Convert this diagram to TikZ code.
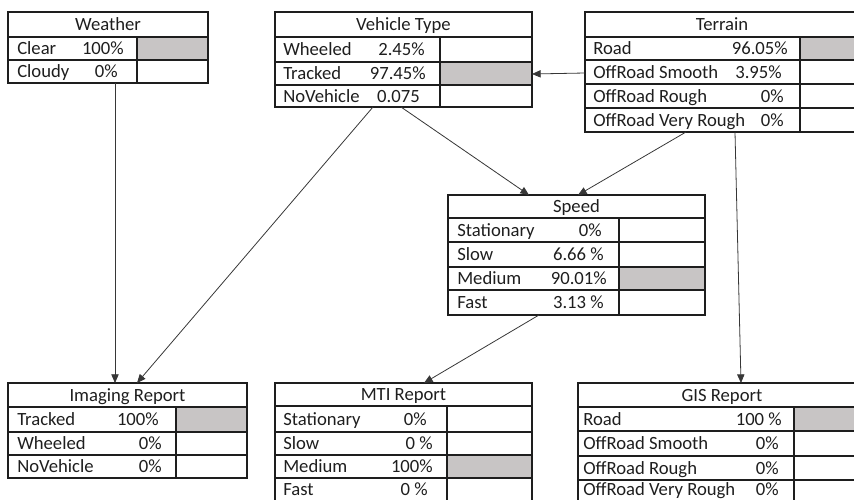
\documentclass[tikz,border=0pt]{standalone}
\usepackage{fontspec}
\setmainfont{Carlito}
\usetikzlibrary{arrows.meta,fit}
\definecolor{cellgray}{RGB}{200,197,197}
\definecolor{ink}{RGB}{30,30,30}
\definecolor{wire}{RGB}{55,55,55}
\begin{document}
\begin{tikzpicture}[x=0.75pt,y=-0.75pt,
  frame/.style={draw=ink, line width=0.8pt, inner sep=0pt, fit={#1}},
  grid/.style={draw=ink, line width=0.8pt},
  shade/.style={fill=cellgray},
  txt/.style={inner sep=0pt, text=ink, font=\fontsize{14}{16}\selectfont},
  title/.style={txt, anchor=base},
  lab/.style={txt, anchor=base west},
  val/.style={txt, anchor=base east},
  link/.style={draw=wire, line width=0.6pt, -{Triangle[length=6.5pt,width=5.5pt]}}]
\useasboundingbox (0,0) rectangle (854,500);
\clip (0,0) rectangle (854,500);

% ---------- Weather
\fill[shade] (137,37) rectangle (208,60);
\node[frame={(8,12)(208,83)}] (weather) {};
\draw[grid] (8,37) -- (208,37) (8,60) -- (208,60) (137,37) -- (137,83);
\node[title] (weatherT) at (108,30.5) {Weather};
\node[lab] (w1a) at (17,54.5) {Clear};
\node[val] (w1b) at (124,54.5) {100\%};
\node[lab] (w2a) at (17,77.5) {Cloudy};
\node[val] (w2b) at (118,77.5) {0\%};

% ---------- Vehicle Type
\fill[shade] (440,62) rectangle (532,85);
\node[frame={(275,12)(532,107)}] (vt) {};
\draw[grid] (275,37) -- (532,37) (275,62) -- (532,62) (275,85) -- (532,85) (440,37) -- (440,107);
\node[title] (vtT) at (403.5,30.5) {Vehicle Type};
\node[lab] (v1a) at (283,55.5) {Wheeled};
\node[val] (v1b) at (425,55.5) {2.45\%};
\node[lab] (v2a) at (283,79.5) {Tracked};
\node[val] (v2b) at (426,79.5) {97.45\%};
\node[lab] (v3a) at (283,102) {NoVehicle};
\node[val] (v3b) at (420,102) {0.075};

% ---------- Terrain
\fill[shade] (800,37) rectangle (859,60);
\node[frame={(585,12)(859,132)}] (terrain) {};
\draw[grid] (585,37) -- (859,37) (585,60) -- (859,60) (585,84) -- (859,84) (585,108) -- (859,108) (800,37) -- (800,132);
\node[title] (terrainT) at (722,30.5) {Terrain};
\node[lab] (t1a) at (593,54.5) {Road};
\node[val] (t1b) at (788,54.5) {96.05\%};
\node[lab] (t2a) at (593,78) {OffRoad Smooth};
\node[val] (t2b) at (782,78) {3.95\%};
\node[lab] (t3a) at (593,102) {OffRoad Rough};
\node[val] (t3b) at (784,102) {0\%};
\node[lab] (t4a) at (593,126) {OffRoad Very Rough};
\node[val] (t4b) at (784,126) {0\%};

% ---------- Speed
\fill[shade] (619,267) rectangle (705,290);
\node[frame={(448,195)(705,315)}] (speed) {};
\draw[grid] (448,218) -- (705,218) (448,242) -- (705,242) (448,267) -- (705,267) (448,290) -- (705,290) (619,218) -- (619,315);
\node[title] (speedT) at (576.5,212.5) {Speed};
\node[lab] (s1a) at (457,236) {Stationary};
\node[val] (s1b) at (602,236) {0\%};
\node[lab] (s2a) at (457,260.5) {Slow};
\node[val] (s2b) at (604,260.5) {6.66 \%};
\node[lab] (s3a) at (457,284.5) {Medium};
\node[val] (s3b) at (607,284.5) {90.01\%};
\node[lab] (s4a) at (457,308.5) {Fast};
\node[val] (s4b) at (604,308.5) {3.13 \%};

% ---------- Imaging Report
\fill[shade] (176,407) rectangle (247,432);
\node[frame={(8,383)(247,478)}] (imaging) {};
\draw[grid] (8,407) -- (247,407) (8,432) -- (247,432) (8,455) -- (247,455) (176,407) -- (176,478);
\node[title] (imagingT) at (127.5,401) {Imaging Report};
\node[lab] (i1a) at (17,425.5) {Tracked};
\node[val] (i1b) at (159,425.5) {100\%};
\node[lab] (i2a) at (17,449.5) {Wheeled};
\node[val] (i2b) at (162,449.5) {0\%};
\node[lab] (i3a) at (17,472.5) {NoVehicle};
\node[val] (i3b) at (162,472.5) {0\%};

% ---------- MTI Report
\fill[shade] (447,455) rectangle (532,478);
\node[frame={(275,383)(532,502)}] (mti) {};
\draw[grid] (275,406) -- (532,406) (275,432) -- (532,432) (275,455) -- (532,455) (275,478) -- (532,478) (447,406) -- (447,502);
\node[title] (mtiT) at (403.5,400.5) {MTI Report};
\node[lab] (m1a) at (283,425) {Stationary};
\node[val] (m1b) at (427,425) {0\%};
\node[lab] (m2a) at (283,449.5) {Slow};
\node[val] (m2b) at (433,449.5) {0 \%};
\node[lab] (m3a) at (283,472.5) {Medium};
\node[val] (m3b) at (433,472.5) {100\%};
\node[lab] (m4a) at (283,495) {Fast};
\node[val] (m4b) at (428,495) {0 \%};

% ---------- GIS Report
\fill[shade] (794,407) rectangle (866,431);
\node[frame={(578,383)(866,504)}] (gis) {};
\draw[grid] (578,407) -- (866,407) (578,431) -- (866,431) (578,456) -- (866,456) (578,480) -- (866,480) (794,407) -- (794,504);
\node[title] (gisT) at (722,401) {GIS Report};
\node[lab] (g1a) at (583,425) {Road};
\node[val] (g1b) at (782,425) {100 \%};
\node[lab] (g2a) at (583,449.5) {OffRoad Smooth};
\node[val] (g2b) at (779,449.5) {0\%};
\node[lab] (g3a) at (583,474) {OffRoad Rough};
\node[val] (g3b) at (779,474) {0\%};
\node[lab] (g4a) at (583,495) {OffRoad Very Rough};
\node[val] (g4b) at (779,495) {0\%};

% ---------- connector ends
\coordinate (weatherOut) at (115,83);
\coordinate (imagingIn1) at (115,383);
\coordinate (vtOut1) at (373,107);
\coordinate (imagingIn2) at (137,383);
\coordinate (vtOut2) at (401,107);
\coordinate (speedIn1) at (529,195);
\coordinate (terrainOut1) at (686,132);
\coordinate (speedIn2) at (578,195);
\coordinate (terrainOut2) at (735,132);
\coordinate (gisIn) at (741,383);
\coordinate (speedOut) at (539,315);
\coordinate (mtiIn) at (424,383);
\coordinate (terrainOut3) at (585,73);
\coordinate (vtIn) at (532,74);

\draw[link] (weatherOut) -- (imagingIn1);
\draw[link] (vtOut1) -- (imagingIn2);
\draw[link] (vtOut2) -- (speedIn1);
\draw[link] (terrainOut1) -- (speedIn2);
\draw[link] (terrainOut2) -- (gisIn);
\draw[link] (speedOut) -- (mtiIn);
\draw[link] (terrainOut3) -- (vtIn);
\end{tikzpicture}
\end{document}
